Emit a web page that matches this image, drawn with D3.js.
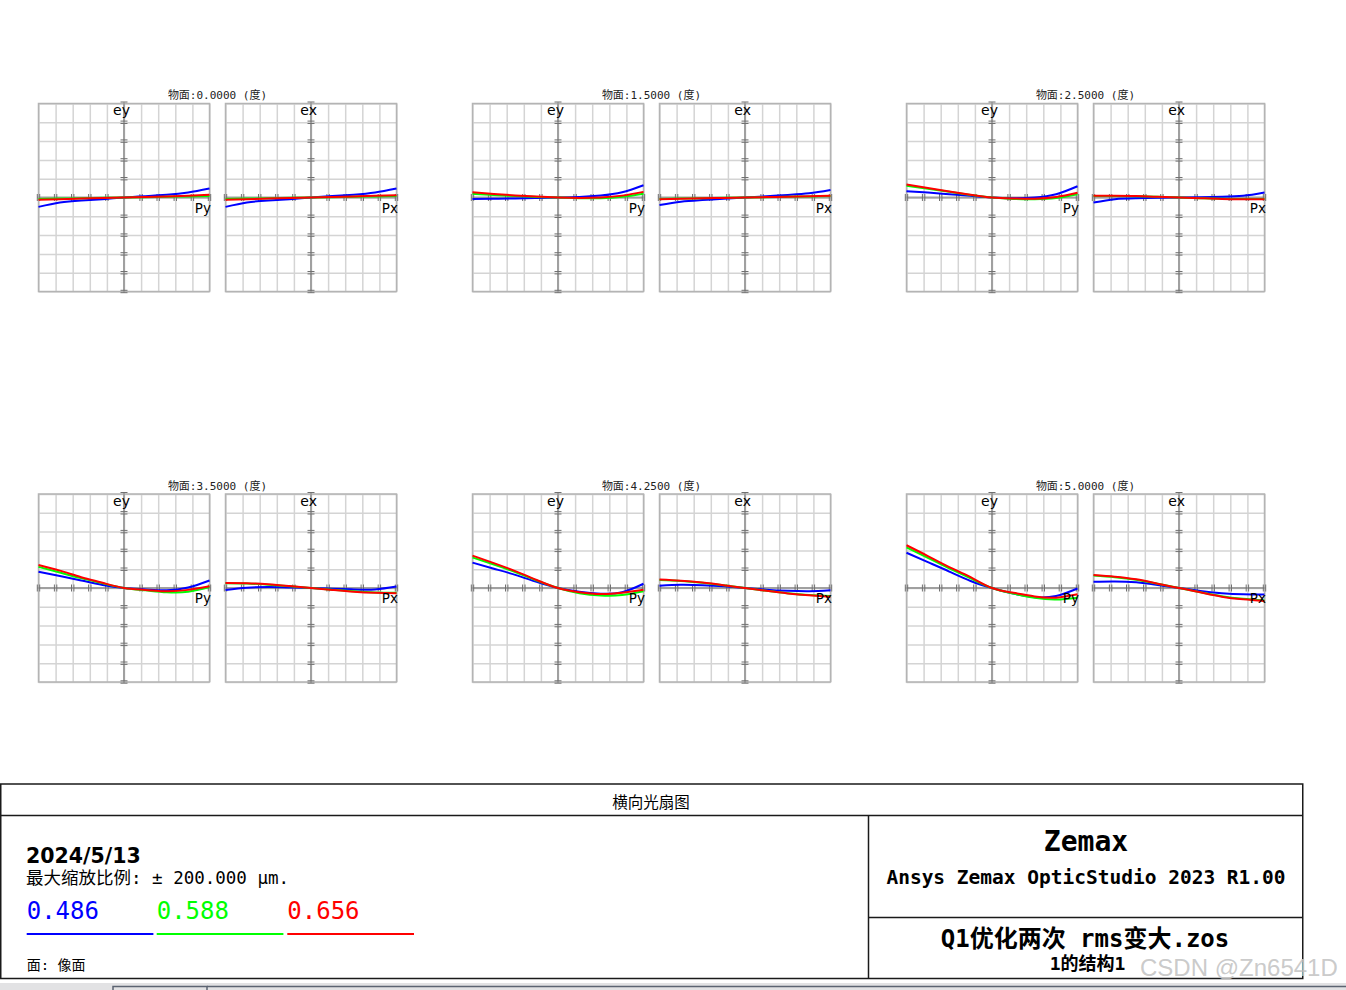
<!DOCTYPE html>
<html>
<head>
<meta charset="utf-8">
<script src="https://cdn.jsdelivr.net/npm/d3@7/dist/d3.min.js"></script>
<style>
  html, body { margin: 0; padding: 0; background: #fff; }
  svg { display: block; }
</style>
</head>
<body>
<svg id="chart" width="1346" height="990"></svg>
<script>
// ---------------- DATA ----------------
const fieldAngles = ["0.0000", "1.5000", "2.5000", "3.5000", "4.2500", "5.0000"];
const pupil = [-1, -0.75, -0.5, -0.25, 0, 0.25, 0.5, 0.75, 1];
const wavelengths = ["0.486", "0.588", "0.656"];
const waveColors = ["#0000ff", "#00ff00", "#ff0000"];
const maxScale = 200; // µm
const gridPupil = [-1, -0.8, -0.6, -0.4, -0.2, 0, 0.2, 0.4, 0.6, 0.8, 1];
const gridAberr = [-200, -160, -120, -80, -40, 0, 40, 80, 120, 160, 200];

// Tangential fan ey (µm) vs Py, one row per field
const eyBlue = [
  [-20, -10.6, -6.4, -3.5, 0, 2.8, 5.7, 10.6, 19],
  [-3, -2.5, -2, -1, 0, 1, 4, 11, 26],
  [13.5, 10.5, 7, 3.5, 0, -1.5, 0, 7, 24],
  [34.7, 25.5, 16, 6.5, 0, -3, -5, 1, 16],
  [54, 41, 28, 13, 0, -8, -12, -9, 9],
  [75, 55, 35, 15, 0, -12, -19.5, -17, -1]
];
const eyGreen = [
  [-3, -2.2, -1.5, -0.7, 0, 0.7, 1.5, 2.2, 3],
  [8, 5.5, 3, 1, 0, -1.5, -1.5, 1.5, 8],
  [25, 18.5, 12, 5.5, 0, -3, -3.5, -1, 7],
  [45, 33, 21, 10, 0, -5, -9, -8, 2],
  [65, 50, 34, 16, 0, -11, -16, -15, -7],
  [86.5, 64, 42, 20.5, 0, -12, -21, -24.5, -20.5]
];
const eyRed = [
  [-5, -3.5, -2.3, -1.1, 0, 1.1, 2.3, 3.8, 6],
  [11, 7.5, 4.5, 2, 0, -1, 0, 4, 12],
  [27.5, 20, 13, 6, 0, -2, -2.5, 1, 10],
  [49, 37, 23, 11, 0, -4, -7, -4, 3.5],
  [69, 53, 36, 17, 0, -9, -13, -10, -3.5],
  [91, 68, 44.5, 23, 0, -10, -18, -20.5, -13.5]
];
// Sagittal fan ex (µm) vs Px
const exBlue = [
  [-20, -10.6, -6.4, -3.5, 0, 3, 6, 10.6, 19],
  [-16, -9, -5.5, -2.5, 0, 2.5, 5.5, 9, 16],
  [-10.6, -3.5, -1.5, -0.7, 0, 0.7, 1.5, 3.5, 10.6],
  [-4.3, 0.5, 2, 1.2, 0, -1.5, -3, -3, 3],
  [5, 7, 6, 3.5, 0, -3.5, -6, -7, -5],
  [13.5, 14, 12, 6.5, 0, -6.5, -11, -13.5, -14]
];
const exGreen = [
  [-3, -2.2, -1.5, -0.7, 0, 0.7, 1.5, 2.2, 3],
  [-3, -2.2, -1.5, -0.7, 0, 0.7, 1.5, 2.2, 3],
  [3, 3.3, 2.8, 1.5, 0, -1.5, -2.8, -3.3, -3],
  [10, 9.5, 7, 3.8, 0, -3.8, -7, -9.5, -10],
  [17, 15, 11, 5.8, 0, -5.8, -11, -15, -17],
  [26.5, 23, 17.5, 9, 0, -9, -17.5, -23, -26.5]
];
const exRed = [
  [-5, -3.5, -2.3, -1.1, 0, 1.1, 2.3, 3.5, 5],
  [-3.5, -2.5, -1.7, -0.8, 0, 0.8, 1.7, 2.5, 3.5],
  [3.5, 3.5, 3, 1.5, 0, -1.5, -3, -3.5, -3.5],
  [10.6, 10.2, 7.8, 4, 0, -4, -7.8, -10.2, -11],
  [18, 15.5, 11.5, 6, 0, -6, -11.5, -15.5, -18.4],
  [27.6, 24, 18.4, 9.2, 0, -9.2, -18.4, -24, -27.6]
];

// ---------------- LAYOUT ----------------
const svg = d3.select("#chart");
const colOffsets = [0, 434, 868];
const rowOffsets = [0, 390.5];
const plotW = 171, plotH = 188;
const monoCJK = "'DejaVu Sans Mono','Noto Sans CJK SC',monospace";

function drawPlot(g, x0, y0, series, vLabel, hLabel) {
  const x = d3.scaleLinear().domain([-1, 1]).range([x0, x0 + plotW]);
  const y = d3.scaleLinear().domain([-maxScale, maxScale]).range([y0 + plotH, y0]);
  const cx = x(0), cy = y(0);

  // grid via axes
  g.append("g")
    .attr("transform", `translate(0,${y0 + plotH})`)
    .call(d3.axisBottom(x).tickValues(gridPupil).tickSize(-plotH).tickFormat(""))
    .call(a => a.select(".domain").remove())
    .call(a => a.selectAll("line").attr("stroke", "#d4d4d4").attr("stroke-width", 1.5));
  g.append("g")
    .attr("transform", `translate(${x0},0)`)
    .call(d3.axisLeft(y).tickValues(gridAberr).tickSize(-plotW).tickFormat(""))
    .call(a => a.select(".domain").remove())
    .call(a => a.selectAll("line").attr("stroke", "#d4d4d4").attr("stroke-width", 1.5));

  // frame
  g.append("rect").attr("x", x0).attr("y", y0).attr("width", plotW).attr("height", plotH)
    .attr("fill", "none").attr("stroke", "#b4b4b4").attr("stroke-width", 1.5);

  // main axes
  g.append("line").attr("x1", cx).attr("x2", cx).attr("y1", y0 - 1).attr("y2", y0 + plotH + 1)
    .attr("stroke", "#a0a0a0").attr("stroke-width", 2);
  g.append("line").attr("x1", x0 - 1).attr("x2", x0 + plotW + 1).attr("y1", cy).attr("y2", cy)
    .attr("stroke", "#a0a0a0").attr("stroke-width", 2);

  // double tick marks on horizontal axis
  gridPupil.forEach(p => {
    if (p === 0) return;
    [-1.2, 1.2].forEach(d => {
      g.append("line").attr("x1", x(p) + d).attr("x2", x(p) + d)
        .attr("y1", cy - 3.5).attr("y2", cy + 3.5)
        .attr("stroke", "#707070").attr("stroke-width", 1);
    });
  });
  // double tick marks on vertical axis
  gridAberr.forEach(v => {
    if (v === 0) return;
    const offs = v === maxScale ? [-1.5] : [-1.2, 1.2];
    offs.forEach(d => {
      g.append("line").attr("x1", cx - 3.5).attr("x2", cx + 3.5)
        .attr("y1", y(v) + d).attr("y2", y(v) + d)
        .attr("stroke", "#707070").attr("stroke-width", 1);
    });
  });

  // curves
  const line = d3.line().x((d, i) => x(pupil[i])).y(d => y(d)).curve(d3.curveNatural);
  series.forEach((vals, k) => {
    g.append("path").attr("d", line(vals)).attr("fill", "none")
      .attr("stroke", waveColors[k]).attr("stroke-width", 2);
  });

  // labels
  g.append("text").attr("x", cx + 6).attr("y", y0 + 11.5).attr("text-anchor", "end")
    .attr("font-family", "'DejaVu Sans',sans-serif").attr("font-size", 14).text(vLabel);
  g.append("text").attr("x", x0 + plotW + 1.5).attr("y", cy + 15).attr("text-anchor", "end")
    .attr("font-family", "'DejaVu Sans',sans-serif").attr("font-size", 13.5).text(hLabel);
}

fieldAngles.forEach((ang, f) => {
  const gx = colOffsets[f % 3], gy = rowOffsets[Math.floor(f / 3)];
  const g = svg.append("g");
  g.append("text").attr("x", gx + 217.5).attr("y", gy + 99).attr("text-anchor", "middle")
    .attr("font-family", monoCJK).attr("font-size", 11).attr("fill", "#222")
    .text(`物面:${ang} (度)`);
  drawPlot(g, gx + 38.5, gy + 103.5, [eyBlue[f], eyGreen[f], eyRed[f]], "ey", "Py");
  drawPlot(g, gx + 225.5, gy + 103.5, [exBlue[f], exGreen[f], exRed[f]], "ex", "Px");
});

// ---------------- INFO BOX ----------------
const box = svg.append("g");
const stroke = "#1a1a1a";
box.append("rect").attr("x", 0.75).attr("y", 784).attr("width", 1302).attr("height", 194.5)
  .attr("fill", "none").attr("stroke", stroke).attr("stroke-width", 1.5);
box.append("line").attr("x1", 0).attr("x2", 1303).attr("y1", 815.5).attr("y2", 815.5)
  .attr("stroke", stroke).attr("stroke-width", 1.5);
box.append("line").attr("x1", 868.5).attr("x2", 868.5).attr("y1", 815.5).attr("y2", 979)
  .attr("stroke", stroke).attr("stroke-width", 1.5);
box.append("line").attr("x1", 868.5).attr("x2", 1303).attr("y1", 917.5).attr("y2", 917.5)
  .attr("stroke", stroke).attr("stroke-width", 1.5);

box.append("text").attr("x", 651).attr("y", 808).attr("text-anchor", "middle")
  .attr("font-family", "'Noto Sans CJK SC',sans-serif").attr("font-size", 15.5).text("横向光扇图");

box.append("text").attr("x", 26).attr("y", 863).attr("font-family", "'DejaVu Sans',sans-serif")
  .attr("font-weight", "bold").attr("font-size", 20.5).text("2024/5/13");
box.append("text").attr("x", 26).attr("y", 884).attr("font-family", monoCJK)
  .attr("font-size", 17.5).text("最大缩放比例: ± 200.000 µm.");

const legX = [26.7, 156.7, 287.3];
wavelengths.forEach((w, i) => {
  box.append("text").attr("x", legX[i]).attr("y", 918.5).attr("font-family", "'DejaVu Sans Mono',monospace")
    .attr("font-size", 24).attr("fill", waveColors[i]).text(w);
  box.append("line").attr("x1", legX[i]).attr("x2", legX[i] + 126.7).attr("y1", 934).attr("y2", 934)
    .attr("stroke", waveColors[i]).attr("stroke-width", 2);
});
box.append("text").attr("x", 26.7).attr("y", 970).attr("font-family", monoCJK)
  .attr("font-size", 14).text("面: 像面");

box.append("text").attr("x", 1086).attr("y", 850.5).attr("text-anchor", "middle")
  .attr("font-family", "'DejaVu Sans Mono',monospace").attr("font-weight", "bold")
  .attr("font-size", 28).text("Zemax");
box.append("text").attr("x", 1086).attr("y", 883.5).attr("text-anchor", "middle")
  .attr("font-family", "'DejaVu Sans Mono',monospace").attr("font-weight", "bold")
  .attr("font-size", 19.5).text("Ansys Zemax OpticStudio 2023 R1.00");
box.append("text").attr("x", 1085).attr("y", 946.5).attr("text-anchor", "middle")
  .attr("font-family", monoCJK).attr("font-weight", "bold").attr("font-size", 24).text("Q1优化两次 rms变大.zos");
box.append("text").attr("x", 1087.5).attr("y", 970).attr("text-anchor", "middle")
  .attr("font-family", monoCJK).attr("font-weight", "bold").attr("font-size", 18).text("1的结构1");

// watermark
svg.append("text").attr("x", 1140).attr("y", 975.5).attr("font-family", "'Liberation Sans',Arial,sans-serif")
  .attr("font-size", 24).attr("fill", "#c4c4c4").attr("fill-opacity", 0.9).text("CSDN @Zn6541D");

// bottom window strip
svg.append("rect").attr("x", 0).attr("y", 983).attr("width", 1346).attr("height", 7).attr("fill", "#e2e2e4");
svg.append("path").attr("d", "M113,990 L113,986.5 L207,986.5 L207,990")
  .attr("fill", "none").attr("stroke", "#5c6472").attr("stroke-width", 1.5);
svg.append("line").attr("x1", 207).attr("x2", 1346).attr("y1", 986.5).attr("y2", 986.5)
  .attr("stroke", "#5c6472").attr("stroke-width", 1.5);
</script>
</body>
</html>
